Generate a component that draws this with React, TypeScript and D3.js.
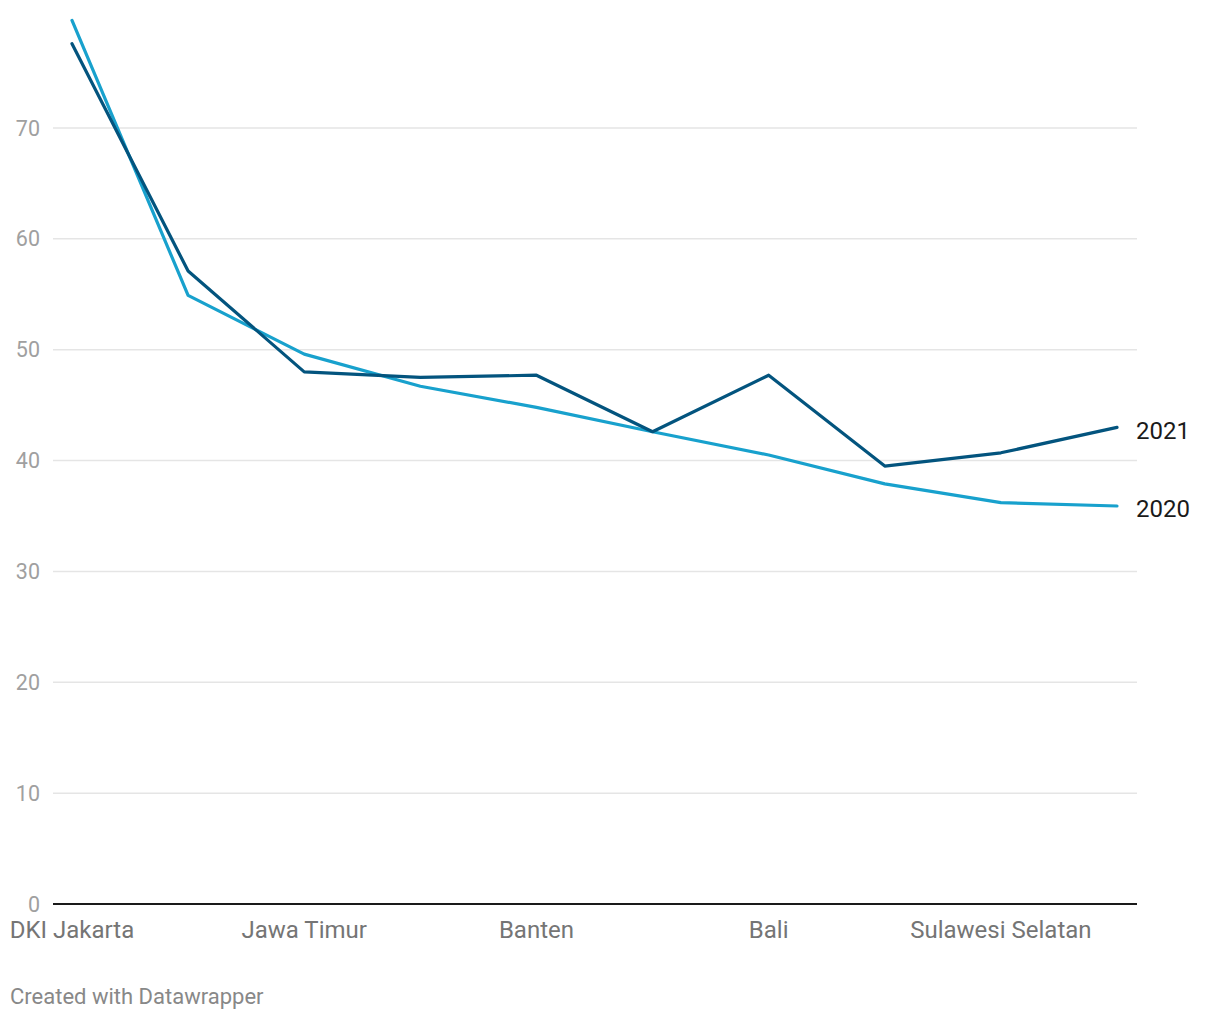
import React from "react";
import * as d3 from "d3";

const categories = [
  "DKI Jakarta",
  "Jawa Barat",
  "Jawa Timur",
  "Jawa Tengah",
  "Banten",
  "DI Yogyakarta",
  "Bali",
  "Sumatera Utara",
  "Sulawesi Selatan",
  "Kalimantan Timur",
];
const values2020 = [79.7, 54.9, 49.6, 46.7, 44.8, 42.6, 40.5, 37.9, 36.2, 35.9];
const values2021 = [77.6, 57.1, 48.0, 47.5, 47.7, 42.6, 47.7, 39.5, 40.7, 43.0];
const yTicks = [0, 10, 20, 30, 40, 50, 60, 70];
const shownLabels = ["DKI Jakarta", "Jawa Timur", "Banten", "Bali", "Sulawesi Selatan"];

const series = [
  { name: "2020", values: values2020, color: "#18a1cd" },
  { name: "2021", values: values2021, color: "#03547e" },
];

const width = 1220;
const height = 1020;
const font = "Roboto, 'Noto Sans', sans-serif";

export default function App() {
  const x = d3.scalePoint<string>().domain(categories).range([72, 1117]);
  const y = d3.scaleLinear().domain([0, 70]).range([904, 128]);
  const gridLeft = 53;
  const gridRight = 1137;

  const line = d3
    .line<number>()
    .x((_, i) => x(categories[i]) as number)
    .y((d) => y(d));

  return (
    <svg
      width={width}
      height={height}
      style={{ position: "absolute", left: 0, top: 0, background: "#fff" }}
      fontFamily={font}
    >
      {yTicks.map((t) => (
        <g key={t}>
          {t !== 0 && (
            <line
              x1={gridLeft}
              x2={gridRight}
              y1={y(t)}
              y2={y(t)}
              stroke="#e5e5e5"
              strokeWidth={1.5}
            />
          )}
          <text
            x={40}
            y={y(t)}
            dy="0.35em"
            textAnchor="end"
            fontSize={21.5}
            fill="#a0a0a0"
          >
            {t}
          </text>
        </g>
      ))}
      <line x1={gridLeft} x2={gridRight} y1={y(0)} y2={y(0)} stroke="#1a1a1a" strokeWidth={2} />
      {shownLabels.map((c) => (
        <text
          key={c}
          x={x(c)}
          y={y(0) + 34}
          textAnchor="middle"
          fontSize={24}
          fill="#757575"
        >
          {c}
        </text>
      ))}
      {series.map((s) => (
        <g key={s.name}>
          <path
            d={line(s.values) || ""}
            fill="none"
            stroke={s.color}
            strokeWidth={3.2}
            strokeLinejoin="round"
            strokeLinecap="round"
          />
          <text
            x={(x(categories[categories.length - 1]) as number) + 19}
            y={y(s.values[s.values.length - 1]) + 3}
            dy="0.35em"
            fontSize={24}
            fill="#1a1a1a"
          >
            {s.name}
          </text>
        </g>
      ))}
      <text x={10} y={1004} fontSize={22} fill="#888">
        Created with Datawrapper
      </text>
    </svg>
  );
}
